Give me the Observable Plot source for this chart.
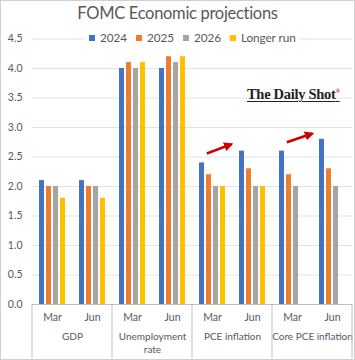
<!DOCTYPE html>
<html>
<head>
<meta charset="utf-8">
<script src="https://cdn.jsdelivr.net/npm/d3@7"></script>
<script src="https://cdn.jsdelivr.net/npm/@observablehq/plot@0.6"></script>
<style>
  html, body { margin: 0; padding: 0; background: #fff; }
  #chart { position: relative; width: 355px; height: 360px; overflow: hidden; font-family: Lato, "Open Sans", sans-serif; }
  #border { position: absolute; left: 0; top: 0; width: 355px; height: 360px; box-sizing: border-box; border: 1px solid #d0d0d0; pointer-events: none; }
  #title { position: absolute; left: 0; top: 2px; width: 355px; text-align: center; font-size: 16.5px; letter-spacing: -0.3px; color: #595959; line-height: 22px; }
  #plot { position: absolute; left: 0; top: 30px; }
  #plot svg { overflow: visible; }
  #legend { position: absolute; top: 30px; left: 85px; background: #fff; padding: 0 4px; display: flex; align-items: center; font-size: 11.8px; letter-spacing: -0.1px; color: #595959; line-height: 15px; }
  #legend .item { display: flex; align-items: center; margin-right: 9px; }
  #legend .item:last-child { margin-right: 0; }
  #legend .sw { width: 6px; height: 6px; margin-right: 5px; }
  #logo { position: absolute; left: 247px; top: 86px; font-family: "Liberation Serif", "DejaVu Serif", serif; font-weight: bold; font-size: 14.5px; color: #222; text-decoration: underline; text-decoration-thickness: 1px; text-underline-offset: 2px; letter-spacing: -0.3px; }
  #logo sup { font-size: 6px; color: #c00000; text-decoration: none; }
</style>
</head>
<body>
<div id="chart">
  <div id="title">FOMC Economic projections</div>
  <div id="plot"></div>
  <div id="legend"></div>
  <div id="logo">The Daily Shot<sup>®</sup></div>
  <div id="border"></div>
</div>
<script>
const indicators = ["GDP", "Unemployment\nrate", "PCE inflation", "Core PCE inflation"];
const months = ["Mar", "Jun"];
const series = ["2024", "2025", "2026", "Longer run"];
const colors = ["#4472C4", "#ED7D31", "#A5A5A5", "#FFC000"];
// values in order: GDP Mar, GDP Jun, Unemp Mar, Unemp Jun, PCE Mar, PCE Jun, Core Mar, Core Jun
const v2024 = [2.1, 2.1, 4.0, 4.0, 2.4, 2.6, 2.6, 2.8];
const v2025 = [2.0, 2.0, 4.1, 4.2, 2.2, 2.3, 2.2, 2.3];
const v2026 = [2.0, 2.0, 4.0, 4.1, 2.0, 2.0, 2.0, 2.0];
const vLonger = [1.8, 1.8, 4.1, 4.2, 2.0, 2.0, null, null];
const yTicks = [0, 0.5, 1.0, 1.5, 2.0, 2.5, 3.0, 3.5, 4.0, 4.5];
// annotation arrows: facet key, start/end (fraction of facet width, value)
const arrowKeys = ["PCE inflation|Mar", "Core PCE inflation|Mar"];
const arrowFrom = [[0.37, 2.55], [0.37, 2.74]];
const arrowTo = [[0.99, 2.71], [1.01, 2.89]];

const seriesValues = [v2024, v2025, v2026, vLonger];
const subgroups = [];
indicators.forEach(ind => months.forEach(m => subgroups.push({key: ind + "|" + m, indicator: ind, month: m})));
const keys = subgroups.map(d => d.key);
const data = [];
subgroups.forEach((sg, i) => series.forEach((s, j) => {
  const v = seriesValues[j][i];
  if (v != null) data.push({key: sg.key, series: s, value: v});
}));
const groupLabels = indicators.map(ind => ({key: ind + "|Mar", label: ind}));

// legend
const legend = document.getElementById("legend");
series.forEach((s, i) => {
  const it = document.createElement("div");
  it.className = "item";
  it.innerHTML = `<span class="sw" style="background:${colors[i]}"></span><span>${s}</span>`;
  legend.appendChild(it);
});

const plot = Plot.plot({
  width: 355,
  height: 330,
  marginTop: 8.5,
  marginBottom: 56,
  marginLeft: 32,
  marginRight: 3,
  style: {fontFamily: "Lato, 'Open Sans', sans-serif", fontSize: "10.5px", color: "#595959", background: "transparent"},
  fx: {domain: keys, padding: 0, axis: null},
  x: {domain: series, paddingInner: 0.24, paddingOuter: 0.95, axis: null},
  y: {domain: [0, 4.5], ticks: yTicks, tickFormat: d3.format(".1f"), tickSize: 0, tickPadding: 10, label: null},
  color: {domain: series, range: colors},
  marks: [
    Plot.ruleY(yTicks.filter(d => d > 0), {stroke: "#e3e3e3"}),
    Plot.barY(data, {fx: "key", x: "series", y: "value", fill: "series"}),
    Plot.ruleY([0], {stroke: "#bfbfbf"}),
    Plot.text(subgroups, {fx: "key", text: "month", frameAnchor: "bottom", dy: 13, lineAnchor: "middle", fill: "#595959", fontSize: 10.5}),
    Plot.text(groupLabels, {fx: "key", text: "label", frameAnchor: "bottom", dx: 20, dy: 27, lineAnchor: "top", lineHeight: 1.25, fill: "#595959", fontSize: 10})
  ]
});
document.getElementById("plot").appendChild(plot);

// category separators and annotation arrows, positioned through the plot's scales
const fx = plot.scale("fx");
const ys = plot.scale("y");
const svg = d3.select(plot);
const bw = fx.bandwidth != null ? fx.bandwidth : 40;
const y0 = ys.apply(0);
const bounds = indicators.map(ind => fx.apply(ind + "|Mar"));
bounds.push(fx.apply(keys[keys.length - 1]) + bw);
const g = svg.append("g");
bounds.forEach(x => {
  g.append("line").attr("x1", x).attr("x2", x).attr("y1", y0).attr("y2", y0 + 54)
    .attr("stroke", "#bfbfbf").attr("stroke-width", 1);
});
const defs = svg.append("defs");
defs.append("marker").attr("id", "ah").attr("viewBox", "0 0 10 10").attr("refX", 8).attr("refY", 5)
  .attr("markerWidth", 3.6).attr("markerHeight", 3.6).attr("orient", "auto")
  .append("path").attr("d", "M0,0L10,5L0,10z").attr("fill", "#d00000");
arrowKeys.forEach((k, i) => {
  const x0 = fx.apply(k);
  g.append("line")
    .attr("x1", x0 + arrowFrom[i][0] * bw).attr("y1", ys.apply(arrowFrom[i][1]))
    .attr("x2", x0 + arrowTo[i][0] * bw).attr("y2", ys.apply(arrowTo[i][1]))
    .attr("stroke", "#d00000").attr("stroke-width", 2.6).attr("marker-end", "url(#ah)");
});
</script>
</body>
</html>
